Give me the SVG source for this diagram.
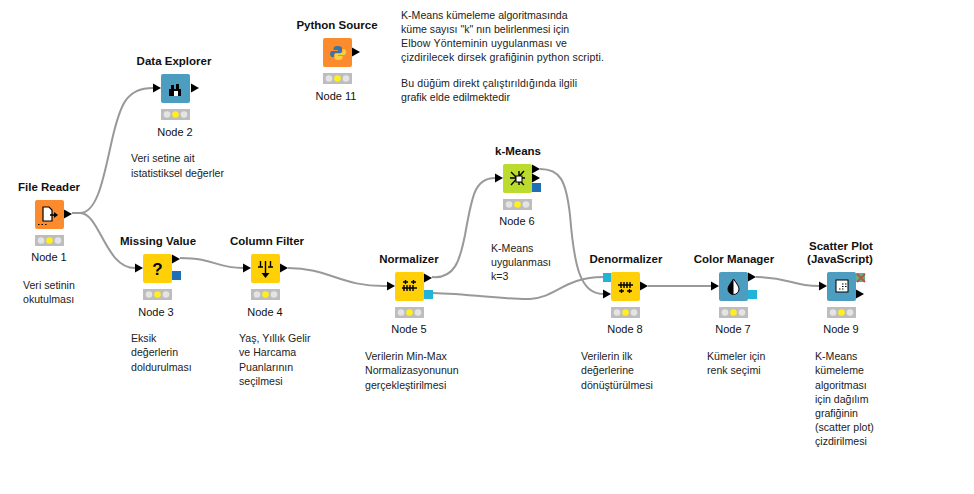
<svg xmlns="http://www.w3.org/2000/svg" width="974" height="494" viewBox="0 0 974 494">
<defs>
<style>
text{font-family:"Liberation Sans",Arial,sans-serif;font-size:10.6px;fill:#222}
.t{font-weight:bold;font-size:11.5px;text-anchor:middle;fill:#111}
.n{font-size:11px;text-anchor:middle;fill:#111}
.c{fill:none;stroke:#999;stroke-width:2}
.o{fill:#fb8b2d}.y{fill:#ffd008}.b{fill:#4c9dbf}.g{fill:#bbdc2f}
.ic{fill:none;stroke:#000;stroke-width:1.400}
</style>
<g id="tl"><rect width="29" height="11" fill="#bdbdbd"/><circle cx="6" cy="5.500" r="3.300" fill="#e4e4e4"/><circle cx="14.500" cy="5.500" r="3.300" fill="#ffef1e"/><circle cx="23" cy="5.500" r="3.300" fill="#e4e4e4"/></g>
<polygon id="ar" points="0,-4.500 8,0 0,4.500" fill="#000"/>
</defs>
<rect width="974" height="494" fill="#fff"/>
<g id="connectors">
<path class="c" d="M72 213H80C98 213 104 175 112 140C120 105 126 88 153 88"/>
<path class="c" d="M72 213H80C100 213 105 268 135 268"/>
<path class="c" d="M180 258C215 258 215 268 243 268"/>
<path class="c" d="M288 268C330 268 340 287 387 286"/>
<path class="c" d="M432 277C455 279 460 260 465 235C472 195 475 178 495 178"/>
<path class="c" d="M433 293C470 294 510 300 530 299C555 298 565 277 603 277"/>
<path class="c" d="M540 169C560 169 566 180 570 215C574 265 580 294 603 294"/>
<path class="c" d="M648 286H711"/>
<path class="c" d="M756 277C790 277 790 286 819 286"/>
</g>
<g id="node1"><text class="t" x="49" y="191">File Reader</text><rect class="o" x="35" y="200" width="29" height="29" rx="2"/><path d="M43 207H49L52 210V221H43Z" fill="#fff" stroke="#000" stroke-width="1.200"/><path d="M50 215H56" stroke="#000" stroke-width="1.500"/><polygon points="54,212 58,215 54,218" fill="#000"/><path d="M38 224.500H48" stroke="#000" stroke-dasharray="1.500 2"/><use href="#ar" x="64" y="214"/><use href="#tl" x="35" y="235"/><text class="n" x="49" y="261">Node 1</text><text x="23" y="289">Veri setinin</text><text x="23" y="303">okutulması</text></g>
<g id="node2"><text class="t" x="174" y="65">Data Explorer</text><use href="#ar" x="153" y="88"/><rect class="b" x="161" y="74" width="29" height="29" rx="2"/><path d="M169 96V89H171V85H174V89H176V84H179V89H181V96Z" fill="#000"/><rect x="174" y="91" width="4" height="5" fill="#fff"/><use href="#ar" x="191" y="88"/><use href="#tl" x="161" y="109"/><text class="n" x="175" y="136">Node 2</text><text x="131" y="162">Veri setine ait</text><text x="131" y="177">istatistiksel değerler</text></g>
<g id="node3"><text class="t" x="158" y="245">Missing Value</text><use href="#ar" x="135" y="268"/><rect class="y" x="143" y="254" width="29" height="29" rx="2"/><text x="157.500" y="275" style="font-size:17px;font-weight:bold;text-anchor:middle;fill:#000">?</text><use href="#ar" x="172" y="259"/><rect x="172" y="271" width="9" height="9" fill="#1e6fb5"/><use href="#tl" x="143" y="289"/><text class="n" x="156" y="316">Node 3</text><text x="131" y="342">Eksik</text><text x="131" y="356">değerlerin</text><text x="131" y="371">doldurulması</text></g>
<g id="node4"><text class="t" x="267" y="245">Column Filter</text><use href="#ar" x="243" y="268"/><rect class="y" x="251" y="254" width="29" height="29" rx="2"/><path class="ic" d="M258 267H263M260.500 261V267M268 267H273M270.500 261V267M265.500 261V274" stroke-width="1.200"/><polygon points="261.500,273 269.500,273 265.500,278" fill="#000"/><use href="#ar" x="280" y="268"/><use href="#tl" x="251" y="289"/><text class="n" x="265" y="316">Node 4</text><text x="239" y="342">Yaş, Yıllık Gelir</text><text x="239" y="356">ve Harcama</text><text x="239" y="371">Puanlarının</text><text x="239" y="385">seçilmesi</text></g>
<g id="node5"><text class="t" x="409" y="263">Normalizer</text><use href="#ar" x="387" y="286"/><rect class="y" x="395" y="272" width="29" height="29" rx="2"/><path class="ic" d="M402 288H417M404 285V291M407 285V291M410 285V291M413 285V291M403 282H408M405.500 280V284M411 282H416M413.500 280V284" stroke-width="1"/><use href="#ar" x="424" y="278"/><rect x="424" y="290" width="9" height="9" fill="#22b3d9"/><use href="#tl" x="395" y="307"/><text class="n" x="409" y="333">Node 5</text><text x="365" y="360">Verilerin Min-Max</text><text x="365" y="374">Normalizasyonunun</text><text x="365" y="389">gerçekleştirilmesi</text></g>
<g id="node6"><text class="t" x="518" y="155">k-Means</text><use href="#ar" x="495" y="178"/><rect class="g" x="503" y="164" width="29" height="29" rx="2"/><path class="ic" d="M511 172L524 185M524 171L511 185M510 178H525M519 171V185" stroke-width="0.800"/><rect x="516" y="176" width="6" height="6" fill="#fff" stroke="#000"/><use href="#ar" x="532" y="169"/><use href="#ar" x="532" y="178"/><rect x="532" y="183" width="9" height="9" fill="#1e6fb5"/><use href="#tl" x="503" y="199"/><text class="n" x="517" y="225">Node 6</text><text x="491" y="252">K-Means</text><text x="491" y="266">uygulanması</text><text x="491" y="280">k=3</text></g>
<g id="node8"><text class="t" x="626" y="263">Denormalizer</text><rect x="603" y="273" width="9" height="9" fill="#22b3d9"/><use href="#ar" x="603" y="294"/><rect class="y" x="611" y="272" width="29" height="29" rx="2"/><path class="ic" d="M618 285H633M621 282V288M624 282V288M627 282V288M630 282V288M619 291H624M621.500 289V293M627 291H632M629.500 289V293" stroke-width="1"/><use href="#ar" x="640" y="286"/><use href="#tl" x="611" y="307"/><text class="n" x="625" y="333">Node 8</text><text x="581" y="360">Verilerin ilk</text><text x="581" y="374">değerlerine</text><text x="581" y="389">dönüştürülmesi</text></g>
<g id="node7"><text class="t" x="734" y="263">Color Manager</text><use href="#ar" x="711" y="286"/><rect class="b" x="719" y="272" width="29" height="29" rx="2"/><path d="M733.500 279C730 284 728 286.500 728 289A5.500 5.500 0 0 0 739 289C739 286.500 737 284 733.500 279Z" fill="#fff" stroke="#000"/><path d="M733.500 279C730 284 728 286.500 728 289A5.500 5.500 0 0 0 733.500 294.500Z" fill="#000"/><use href="#ar" x="748" y="277"/><rect x="748" y="290" width="9" height="9" fill="#22b3d9"/><use href="#tl" x="719" y="307"/><text class="n" x="733" y="333">Node 7</text><text x="707" y="360">Kümeler için</text><text x="707" y="374">renk seçimi</text></g>
<g id="node9"><text class="t" x="841" y="250">Scatter Plot</text><text class="t" x="840" y="263">(JavaScript)</text><use href="#ar" x="819" y="286"/><rect class="b" x="827" y="272" width="29" height="29" rx="2"/><rect x="836" y="280" width="12" height="12" fill="#fff" stroke="#000"/><path d="M839 289h1.500M842 289h1.500M842 286.500h1.500M845 286.500h1.500M845 284h1.500M842 284h1.500" stroke="#000"/><rect x="856" y="273" width="9" height="9" fill="#63b08a"/><path d="M857 274L865 282M865 274L857 282" stroke="#b5573f" stroke-width="1.800"/><use href="#ar" x="856" y="294"/><use href="#tl" x="827" y="307"/><text class="n" x="841" y="333">Node 9</text><text x="815" y="360">K-Means</text><text x="815" y="374">kümeleme</text><text x="815" y="389">algoritması</text><text x="815" y="403">için dağılım</text><text x="815" y="417">grafiğinin</text><text x="815" y="431">(scatter plot)</text><text x="815" y="445">çizdirilmesi</text></g>
<g id="node11"><text class="t" x="337" y="29">Python Source</text><rect class="o" x="323" y="38" width="29" height="29" rx="2"/><path d="M338 46C334 46 333.500 47.500 333.500 49V50H338V51H332C330.500 51 330 53 330 54C330 55.500 331 57 332 57H334V55C334 53.500 335 53 336.500 53H340C341 53 342 52.500 342 51V48C342 47 340.500 46 338 46Z" fill="#3b75a8"/><path d="M338 60C342 60 342.500 58.500 342.500 57V56H338V55H344C345.500 55 346 53 346 52C346 50.500 345 49 344 49H342.500V51C342.500 52.500 341.500 53.500 340 53.500H336.500C335.500 53.500 334.500 54 334.500 55V58C334.500 59 335.500 60 338 60Z" fill="#f7d13f"/><use href="#ar" x="352" y="52"/><use href="#tl" x="323" y="73"/><text class="n" x="336" y="100">Node 11</text></g>
<g id="note"><text x="401" y="19">K-Means kümeleme algoritmasında</text><text x="401" y="33">küme sayısı "k" nın belirlenmesi için</text><text x="401" y="47" textLength="166">Elbow Yönteminin uygulanması ve</text><text x="401" y="61" textLength="203">çizdirilecek dirsek grafiğinin python scripti.</text><text x="401" y="87" textLength="176">Bu düğüm direkt çalıştırıldığında ilgili</text><text x="401" y="101">grafik elde edilmektedir</text></g>
</svg>
